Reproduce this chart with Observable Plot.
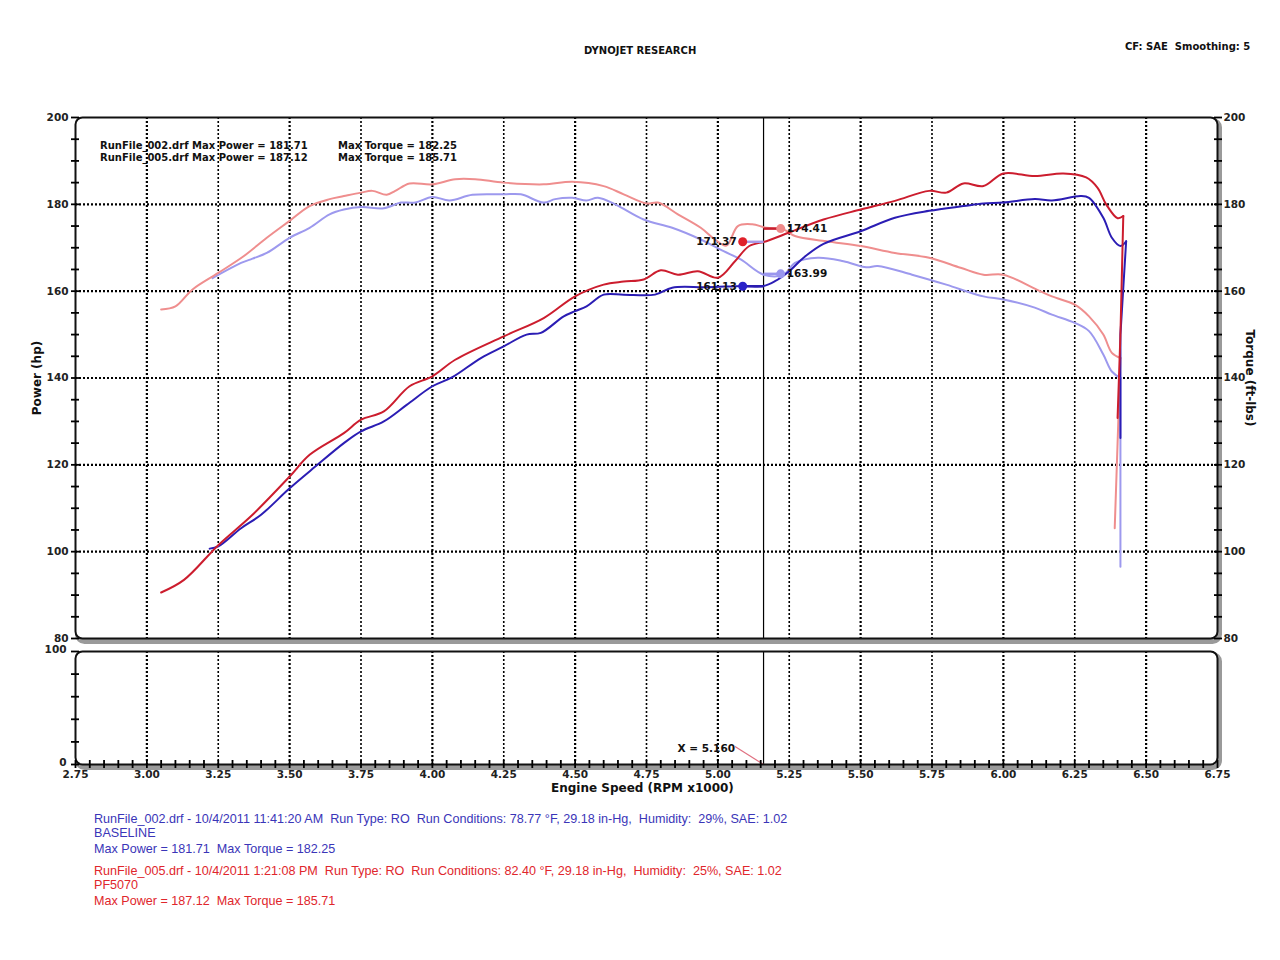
<!DOCTYPE html>
<html>
<head>
<meta charset="utf-8">
<script src="https://cdn.jsdelivr.net/npm/d3@7"></script>
<script src="https://cdn.jsdelivr.net/npm/@observablehq/plot@0.6"></script>
<style>
  html, body { margin: 0; padding: 0; background: #fff; }
  #wrap { position: relative; width: 1280px; height: 960px; overflow: hidden; background:#fff; }
  .abs { position: absolute; white-space: pre; }
  .hdr { font-family: "DejaVu Sans", sans-serif; font-weight: bold; font-size: 10px; color: #111; }
  .legend { font-family: "Liberation Sans", Arial, sans-serif; font-size: 12.6px; line-height: 14px; }
</style>
</head>
<body>
<div id="wrap"></div>
<script>
// ---------- DATA ----------
// Run 005 (PF5070) power, hp
const p005Rpm = [3.05,3.13,3.25,3.37,3.50,3.57,3.69,3.75,3.83,3.92,4.00,4.08,4.25,4.39,4.50,4.60,4.67,4.74,4.80,4.86,4.93,5.00,5.06,5.11,5.17,5.25,5.37,5.50,5.62,5.74,5.80,5.86,5.93,6.00,6.11,6.21,6.29,6.33,6.36,6.40,6.42,6.41,6.40];
const p005Hp  = [90.6,93.5,101.5,108.5,117.3,122.3,127.3,130.4,132.3,138.1,140.4,144.2,149.6,153.8,158.8,161.5,162.2,162.7,164.8,163.8,164.6,163.1,166.9,170.4,171.5,173.5,176.5,178.8,180.8,183.1,182.7,184.8,184.2,187.1,186.5,187.1,186.2,183.8,180.0,176.8,177.3,150.0,130.8];
// Run 002 (BASELINE) power, hp
const p002Rpm = [3.22,3.25,3.33,3.40,3.50,3.59,3.69,3.75,3.83,3.91,4.00,4.07,4.17,4.25,4.33,4.38,4.46,4.50,4.54,4.60,4.67,4.78,4.84,4.96,5.09,5.16,5.20,5.25,5.30,5.37,5.50,5.62,5.74,5.86,5.93,6.00,6.11,6.17,6.27,6.30,6.35,6.38,6.41,6.43,6.41,6.41];
const p002Hp  = [100.7,101.2,105.4,108.5,114.6,119.6,125.0,127.7,130.0,133.8,138.1,140.2,144.6,147.3,150.0,150.4,154.2,155.4,156.5,159.2,159.2,159.2,160.8,160.9,161.2,161.2,162.3,164.6,167.7,170.9,173.8,176.9,178.5,179.6,180.2,180.4,181.2,180.9,181.9,181.5,176.9,172.3,170.4,171.5,150.0,126.2];
// Run 005 torque, ft-lbs
const t005Rpm = [3.05,3.10,3.16,3.25,3.34,3.42,3.50,3.57,3.64,3.69,3.75,3.79,3.84,3.87,3.92,4.00,4.08,4.15,4.25,4.39,4.49,4.60,4.67,4.75,4.79,4.86,4.94,4.99,5.03,5.07,5.12,5.17,5.23,5.27,5.38,5.50,5.62,5.74,5.85,5.93,6.00,6.11,6.17,6.25,6.30,6.35,6.38,6.41,6.40,6.39];
const t005Tq  = [155.8,156.5,160.4,164.2,168.1,172.3,176.2,179.6,181.2,181.9,182.7,183.1,182.2,183.1,184.8,184.6,185.8,185.8,185.0,184.6,185.2,184.2,182.3,180.2,180.4,177.7,174.6,171.9,170.5,175.0,175.4,174.6,174.2,172.7,171.5,170.4,168.8,167.7,165.4,163.8,163.8,160.6,158.8,156.9,154.2,150.0,145.8,144.6,125.0,105.4];
// Run 002 torque, ft-lbs
const t002Rpm = [3.23,3.33,3.37,3.42,3.50,3.57,3.64,3.69,3.75,3.83,3.89,3.94,4.00,4.06,4.14,4.25,4.31,4.39,4.43,4.49,4.54,4.58,4.64,4.74,4.84,4.94,5.02,5.08,5.16,5.23,5.27,5.35,5.44,5.52,5.56,5.68,5.80,5.93,6.00,6.11,6.17,6.25,6.30,6.35,6.38,6.41,6.41,6.41];
const t002Tq  = [163.0,166.5,167.5,168.8,172.3,174.6,177.7,178.8,179.4,179.1,180.4,180.4,181.7,180.9,182.2,182.3,182.3,180.4,181.2,181.5,180.9,181.5,180.0,176.5,174.6,171.9,169.2,167.3,163.8,163.8,166.5,167.7,166.9,165.5,165.8,163.8,161.5,158.8,158.1,156.2,154.6,152.7,150.8,145.4,141.5,140.0,120.0,96.5];

// Cursor and its value markers
const cursorRpm = 5.16;
const markerRpm = [5.087, 5.087, 5.22, 5.22];
const markerVal = [171.37, 161.13, 174.41, 163.99];
const markerLabel = ["171.37", "161.13", "174.41", "163.99"];
const markerColor = ["#e0202a", "#2a22c8", "#f08a8a", "#9a96ee"];
const markerLinkColor = ["#a99ae8", "#2a1cb0", "#c81e2e", "#9a96ee"];
const markerSide = ["left", "left", "right", "right"];

// Axes ticks
const yMajor = [80, 100, 120, 140, 160, 180, 200];
const yGrid = [100, 120, 140, 160, 180];
const yMinor = d3.range(80, 201, 5);
const xTicks = d3.range(2.75, 6.751, 0.25);
const xGridHeavy = [3.00, 3.50, 4.00, 4.50, 5.00, 5.50, 6.00, 6.50];
const xGridLight = [3.25, 3.75, 4.25, 4.75, 5.25, 5.75, 6.25];
const xMinor = d3.range(2.75, 6.751, 0.05);
const lowerTicks = [0, 20, 40, 60, 80, 100];
const lowerLabels = [0, 100];
const cursorText = "X = 5.160";
const cursorTextRpm = 5.06;
const cursorTextVal = 16;

const colRed = "#cc1d2e", colBlue = "#2b1db4", colLRed = "#ef8e8e", colLBlue = "#9d99ee";

// ---------- BUILD ----------
const toPts = (xs, ys) => xs.map((x, i) => ({x, y: ys[i]}));
// split each run into the sweep (up to max rpm) and the closing drop
function split(xs, ys) {
  const k = d3.maxIndex(xs);
  const pts = toPts(xs, ys);
  return [pts.slice(0, k + 1), pts.slice(k)];
}
const [sP005, dP005] = split(p005Rpm, p005Hp);
const [sP002, dP002] = split(p002Rpm, p002Hp);
const [sT005, dT005] = split(t005Rpm, t005Tq);
const [sT002, dT002] = split(t002Rpm, t002Tq);
const markers = markerRpm.map((x, i) => ({x, y: markerVal[i], label: markerLabel[i], c: markerColor[i], lc: markerLinkColor[i], side: markerSide[i]}));

const wrap = document.getElementById("wrap");
const FONT = "DejaVu Sans, Verdana, sans-serif";

function series(sweep, drop, color, w) {
  return [
    Plot.line(sweep, {x: "x", y: "y", stroke: color, strokeWidth: w, curve: "catmull-rom", clip: true}),
    Plot.line(drop, {x: "x", y: "y", stroke: color, strokeWidth: w, clip: true})
  ];
}

const main = Plot.plot({
  width: 1280, height: 645,
  marginTop: 117, marginBottom: 7, marginLeft: 75, marginRight: 63,
  style: {fontFamily: FONT, fontSize: "10.5px", fontWeight: "bold", background: "transparent", overflow: "visible"},
  x: {domain: [2.75, 6.75], axis: null},
  y: {domain: [80, 200], axis: null},
  marks: [
    Plot.frame({stroke: "#9a9a9a", strokeWidth: 5, rx: 7, dx: 2, dy: 3}),
    Plot.frame({fill: "#fff", stroke: "none", rx: 7}),
    Plot.gridX(xGridHeavy, {stroke: "#000", strokeOpacity: 1, strokeWidth: 2.2, strokeDasharray: "2,2"}),
    Plot.gridX(xGridLight, {stroke: "#000", strokeOpacity: 1, strokeWidth: 1.6, strokeDasharray: "2,2"}),
    Plot.gridY(yGrid, {stroke: "#000", strokeOpacity: 1, strokeWidth: 2.2, strokeDasharray: "2,2"}),
    Plot.ruleX([cursorRpm], {stroke: "#000", strokeWidth: 1.2}),
    ...series(sT002, dT002, colLBlue, 2),
    ...series(sT005, dT005, colLRed, 2),
    ...series(sP002, dP002, colBlue, 2),
    ...series(sP005, dP005, colRed, 2),
    Plot.link(markers, {x1: "x", x2: () => cursorRpm, y1: "y", y2: "y", stroke: d => d.lc, strokeWidth: 2.5}),
    Plot.dot(markers, {x: "x", y: "y", r: 4.5, fill: d => d.c, stroke: "none"}),
    Plot.text(markers.filter(d => d.side === "left"), {x: "x", y: "y", text: "label", textAnchor: "end", dx: -6, fill: "#111", fontSize: 10.5}),
    Plot.text(markers.filter(d => d.side === "right"), {x: "x", y: "y", text: "label", textAnchor: "start", dx: 6, fill: "#111", fontSize: 10.5}),
    Plot.frame({stroke: "#111", strokeWidth: 2, rx: 7}),
    Plot.axisY(yMinor, {anchor: "left", label: null, tickSize: 8, dx: 4, tickFormat: () => "", strokeWidth: 1.8}),
    Plot.axisY(yMinor, {anchor: "right", label: null, tickSize: 8, dx: -4, tickFormat: () => "", strokeWidth: 1.8}),
    Plot.axisY(yMajor, {anchor: "left", label: null, tickSize: 0, tickPadding: 7, fontWeight: "bold", fill: "#222"}),
    Plot.axisY(yMajor, {anchor: "right", label: null, tickSize: 0, tickPadding: 6, fontWeight: "bold", fill: "#222"})
  ]
});
main.style.position = "absolute"; main.style.left = "0px"; main.style.top = "0px";
wrap.appendChild(main);

const lower = Plot.plot({
  width: 1280, height: 165,
  marginTop: 6, marginBottom: 46, marginLeft: 75, marginRight: 63,
  style: {fontFamily: FONT, fontSize: "10.5px", fontWeight: "bold", background: "transparent", overflow: "visible"},
  x: {domain: [2.75, 6.75], axis: null},
  y: {domain: [0, 100], axis: null},
  marks: [
    Plot.frame({stroke: "#9a9a9a", strokeWidth: 5, rx: 7, dx: 2, dy: 3}),
    Plot.frame({fill: "#fff", stroke: "none", rx: 7}),
    Plot.gridX(xGridHeavy, {stroke: "#000", strokeOpacity: 1, strokeWidth: 2.2, strokeDasharray: "2,2"}),
    Plot.gridX(xGridLight, {stroke: "#000", strokeOpacity: 1, strokeWidth: 1.6, strokeDasharray: "2,2"}),
    Plot.ruleX([cursorRpm], {stroke: "#000", strokeWidth: 1.2}),
    Plot.link([{x1: cursorTextRpm, y1: cursorTextVal, x2: cursorRpm, y2: 0}], {x1: "x1", y1: "y1", x2: "x2", y2: "y2", stroke: "#e07080", strokeWidth: 1.2}),
    Plot.text([cursorText], {x: cursorTextRpm, y: cursorTextVal, text: d => d, textAnchor: "end", dy: 2, fill: "#111", fontSize: 10.5}),
    Plot.frame({stroke: "#111", strokeWidth: 2, rx: 7}),
    Plot.axisY(lowerTicks, {anchor: "left", label: null, tickSize: 8, dx: 4, tickFormat: () => "", strokeWidth: 1.8}),
    Plot.axisY(lowerLabels, {anchor: "left", label: null, tickSize: 0, tickPadding: 9, dy: -2, fontWeight: "bold", fill: "#222"}),
    Plot.axisX(xMinor, {anchor: "bottom", label: null, tickSize: 8, dy: -4, tickFormat: () => "", strokeWidth: 1.8}),
    Plot.axisX(xTicks, {anchor: "bottom", label: null, tickSize: 0, tickPadding: 6, tickFormat: d3.format(".2f"), fontWeight: "bold", fill: "#222"})
  ]
});
lower.style.position = "absolute"; lower.style.left = "0px"; lower.style.top = "645px";
wrap.appendChild(lower);

// ---------- TEXT ----------
function addText(txt, left, top, cls, extra) {
  const d = document.createElement("div");
  d.className = "abs " + cls;
  d.textContent = txt;
  d.style.left = left + "px"; d.style.top = top + "px";
  if (extra) Object.assign(d.style, extra);
  wrap.appendChild(d);
  return d;
}
addText("DYNOJET RESEARCH", 584, 45, "hdr");
addText("CF: SAE  Smoothing: 5", 1125, 41, "hdr");
addText("RunFile_002.drf Max Power = 181.71", 100, 140, "hdr");
addText("Max Torque = 182.25", 338, 140, "hdr");
addText("RunFile_005.drf Max Power = 187.12", 100, 152, "hdr");
addText("Max Torque = 185.71", 338, 152, "hdr");
addText("Engine Speed (RPM x1000)", 551, 781, "hdr", {fontSize: "12px"});
addText("Power (hp)", 37, 378, "hdr", {fontSize: "12px", transform: "translate(-50%,-50%) rotate(-90deg)"});
addText("Torque (ft-lbs)", 1250, 378, "hdr", {fontSize: "12px", transform: "translate(-50%,-50%) rotate(90deg)"});

const blue = "#3a35b8", red = "#e0262c";
addText("RunFile_002.drf - 10/4/2011 11:41:20 AM  Run Type: RO  Run Conditions: 78.77 \u00B0F, 29.18 in-Hg,  Humidity:  29%, SAE: 1.02", 94, 812, "legend", {color: blue});
addText("BASELINE", 94, 826, "legend", {color: blue});
addText("Max Power = 181.71  Max Torque = 182.25", 94, 842, "legend", {color: blue});
addText("RunFile_005.drf - 10/4/2011 1:21:08 PM  Run Type: RO  Run Conditions: 82.40 \u00B0F, 29.18 in-Hg,  Humidity:  25%, SAE: 1.02", 94, 864, "legend", {color: red});
addText("PF5070", 94, 878, "legend", {color: red});
addText("Max Power = 187.12  Max Torque = 185.71", 94, 894, "legend", {color: red});
</script>
</body>
</html>
